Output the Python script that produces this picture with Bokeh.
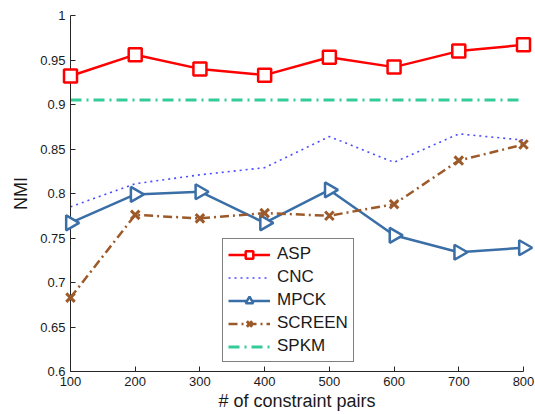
import math
from bokeh.plotting import figure
from bokeh.models import FixedTicker, Legend, LegendItem, Range1d
from bokeh.embed import file_html
from bokeh.resources import INLINE

constraint_pairs = [100, 200, 300, 400, 500, 600, 700, 800]
asp = [0.932, 0.956, 0.940, 0.933, 0.953, 0.942, 0.960, 0.967]
cnc = [0.785, 0.811, 0.821, 0.829, 0.864, 0.835, 0.867, 0.860]
mpck = [0.767, 0.799, 0.802, 0.767, 0.804, 0.753, 0.734, 0.739]
screen = [0.683, 0.776, 0.772, 0.778, 0.775, 0.788, 0.837, 0.855]
spkm = [0.905, 0.905, 0.905, 0.905, 0.905, 0.905, 0.905, 0.905]

x_ticks = [100, 200, 300, 400, 500, 600, 700, 800]
y_ticks = [0.6, 0.65, 0.7, 0.75, 0.8, 0.85, 0.9, 0.95, 1.0]
y_tick_labels = ["0.6", "0.65", "0.7", "0.75", "0.8", "0.85", "0.9", "0.95", "1"]

FONT = "Liberation Sans"

p = figure(width=535, height=414, output_backend="svg", toolbar_location=None,
           x_range=Range1d(100, 800), y_range=Range1d(0.6, 1.0),
           min_border_left=70, min_border_right=12, min_border_top=15, min_border_bottom=43)
p.xgrid.visible = False
p.ygrid.visible = False
p.outline_line_color = None
p.background_fill_color = "white"
p.border_fill_color = "white"

for ax in (p.xaxis[0], p.yaxis[0]):
    ax.major_tick_in = 5
    ax.major_tick_out = 0
    ax.minor_tick_line_color = None
    ax.axis_line_color = "#262626"
    ax.major_tick_line_color = "#262626"
    ax.major_label_text_font = FONT
    ax.major_label_text_font_size = "13px"
    ax.major_label_text_color = "#1a1a1a"
    ax.axis_label_text_font = FONT
    ax.axis_label_text_font_size = "18px"
    ax.axis_label_text_font_style = "normal"
    ax.axis_label_text_color = "#1a1a1a"

p.xaxis.ticker = FixedTicker(ticks=x_ticks)
p.yaxis.ticker = FixedTicker(ticks=y_ticks)
p.yaxis.major_label_overrides = {t: l for t, l in zip(y_ticks, y_tick_labels)}
p.xaxis.axis_label = "# of constraint pairs"
p.yaxis.axis_label = "NMI"
p.xaxis.major_label_standoff = 5
p.xaxis.axis_label_standoff = 2
p.yaxis.major_label_standoff = 5
p.yaxis.axis_label_standoff = 6

RED = "#FF0000"
CNC_C = "#4B4BFF"
MPCK_C = "#3A6EA6"
SCR_C = "#9C5A2A"
SPKM_C = "#33CC99"

r_asp_l = p.line(constraint_pairs, asp, line_color=RED, line_width=2.5)
r_asp_m = p.scatter(constraint_pairs, asp, marker="square", size=13, line_color=RED,
                    line_width=2.5, fill_color="white", level="overlay")
r_cnc = p.line(constraint_pairs, cnc, line_color=CNC_C, line_width=1.6, line_dash="2 4")
r_mpck_l = p.line(constraint_pairs, mpck, line_color=MPCK_C, line_width=2.5)
r_mpck_m = p.scatter(constraint_pairs, mpck, marker="triangle", size=15, angle=-math.pi / 2,
                     line_color=MPCK_C, line_width=2.5, fill_color="white", level="overlay")
r_scr_l = p.line(constraint_pairs, screen, line_color=SCR_C, line_width=2.5, line_dash="9 4 2 4")
r_scr_m = p.scatter(constraint_pairs, screen, marker="x", size=12, line_color=SCR_C,
                    line_width=3, level="overlay")
r_spkm = p.line(constraint_pairs, spkm, line_color=SPKM_C, line_width=3, line_dash="11 5 2 5")

legend = Legend(items=[
    LegendItem(label="ASP", renderers=[r_asp_l, r_asp_m]),
    LegendItem(label="CNC", renderers=[r_cnc]),
    LegendItem(label="MPCK", renderers=[r_mpck_l, r_mpck_m]),
    LegendItem(label="SCREEN", renderers=[r_scr_l, r_scr_m]),
    LegendItem(label="SPKM", renderers=[r_spkm]),
], location=(152, 9))
legend.label_text_font = FONT
legend.label_text_font_size = "17px"
legend.label_text_color = "#1a1a1a"
legend.glyph_width = 42
legend.glyph_height = 19
legend.label_height = 19
legend.spacing = 3
legend.padding = 5
legend.margin = 0
legend.label_standoff = 7
legend.border_line_color = "black"
legend.border_line_width = 1.5
legend.background_fill_color = "white"
legend.background_fill_alpha = 1.0
p.add_layout(legend, "center")

open("out.html", "w").write(file_html(p, INLINE))
